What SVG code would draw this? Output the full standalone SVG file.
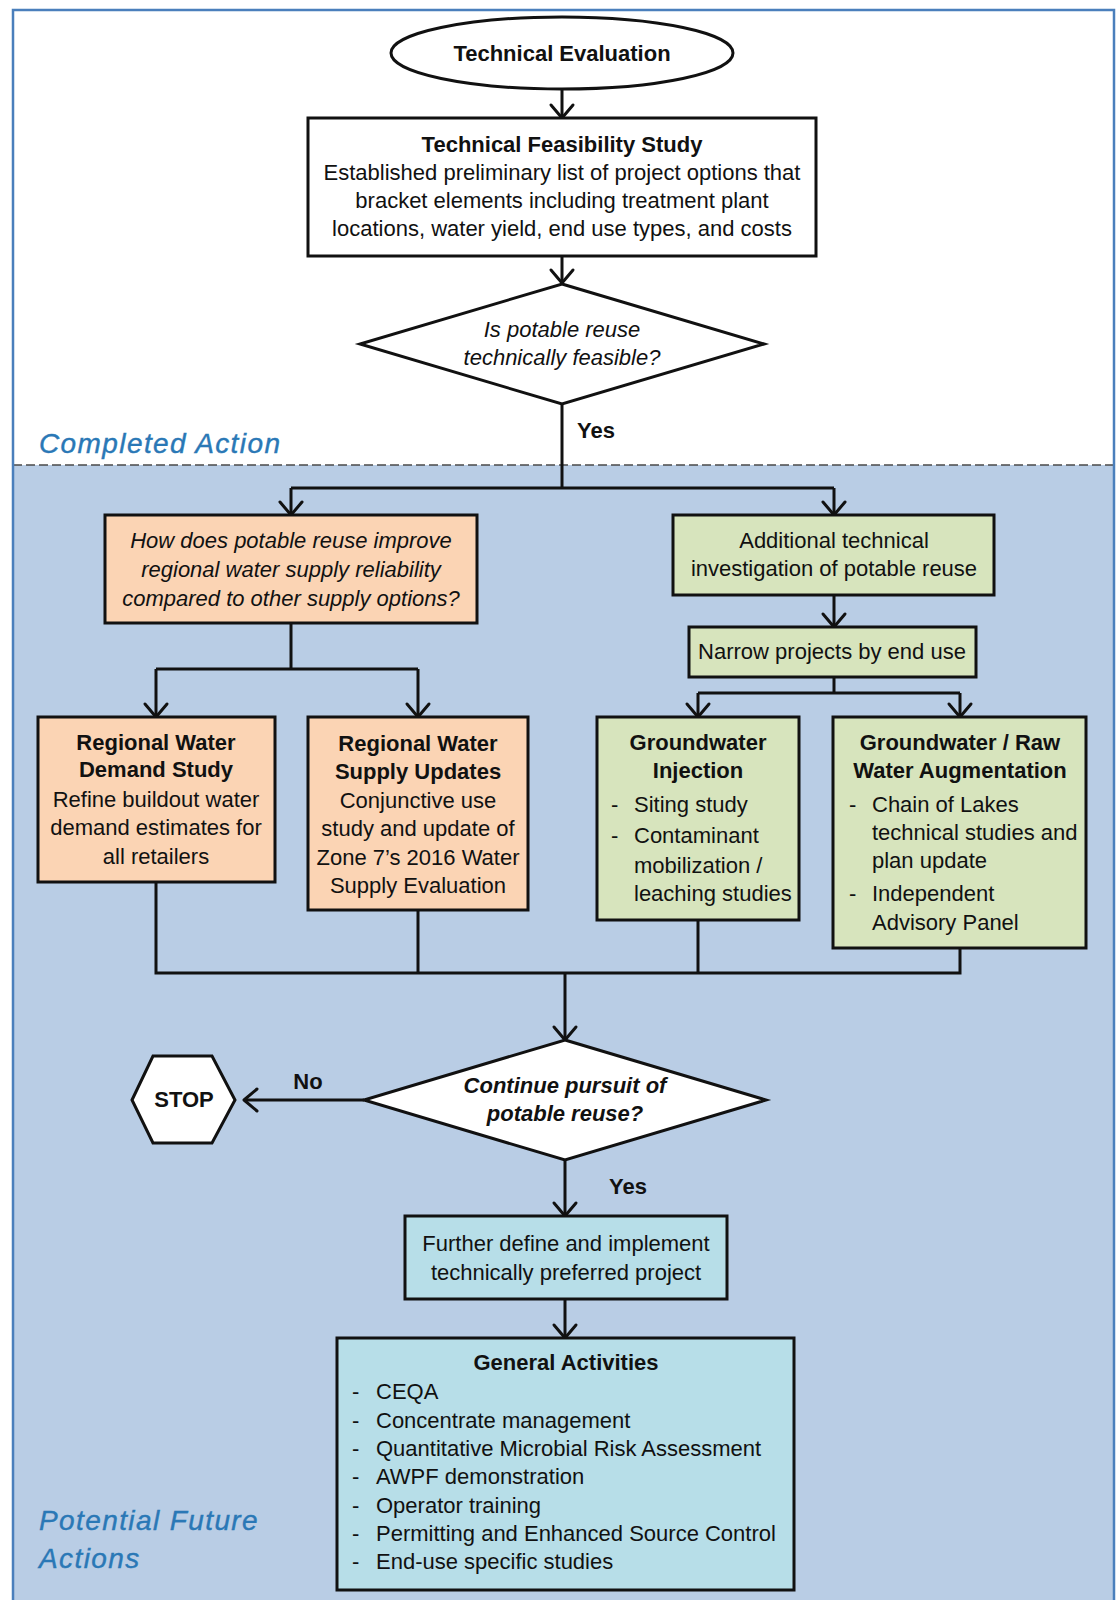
<svg xmlns="http://www.w3.org/2000/svg" width="1119" height="1600" viewBox="0 0 1119 1600">
  <style>
    .t { font-family: "Liberation Sans", Arial, sans-serif; font-size: 22px; fill: #111; }
    .c { text-anchor: middle; }
    .b { font-weight: bold; }
    .i { font-style: italic; }
    .zone { font-family: "Liberation Sans", Arial, sans-serif; font-size: 28px; font-style: italic; fill: #2a78b6; letter-spacing: 1.4px; stroke: #2a78b6; stroke-width: 0.4; }
    .box { stroke: #111; stroke-width: 3; }
    .white { fill: #ffffff; }
    .orange { fill: #fbd4b4; }
    .green { fill: #d7e4bd; }
    .teal { fill: #b7dee8; }
    .wire { fill: none; stroke: #111; stroke-width: 3; }
    .arrow { marker-end: url(#head); }
  </style>
  <defs>
    <marker id="head" markerUnits="userSpaceOnUse" markerWidth="30" markerHeight="30" refX="0" refY="0" orient="auto" overflow="visible">
      <path d="M-13,-11 L0,0 L-13,11" fill="none" stroke="#111" stroke-width="3" stroke-linejoin="round" stroke-linecap="round"/>
    </marker>
  </defs>

  <!-- page and zones -->
  <rect x="0" y="0" width="1119" height="1600" fill="#ffffff"/>
  <rect x="13" y="465" width="1101" height="1135" fill="#b9cde5"/>
  <line x1="13" y1="465" x2="1114" y2="465" stroke="#4a4a4a" stroke-width="1.5" stroke-dasharray="9,4"/>
  <rect x="13" y="10" width="1101" height="1592" fill="none" stroke="#4a7fbc" stroke-width="2.5"/>
  <text class="zone" x="39" y="453">Completed Action</text>
  <text class="zone" x="39" y="1530">Potential Future</text>
  <text class="zone" x="39" y="1568">Actions</text>

  <!-- connectors -->
  <g id="connectors">
    <line class="wire arrow" x1="562" y1="89" x2="562" y2="118"/>
    <line class="wire arrow" x1="562" y1="256" x2="562" y2="283"/>
    <polyline class="wire" points="562,404 562,488"/>
    <polyline class="wire" points="291,488 834,488"/>
    <line class="wire arrow" x1="291" y1="488" x2="291" y2="515"/>
    <line class="wire arrow" x1="834" y1="488" x2="834" y2="515"/>
    <text class="t b" x="577" y="438">Yes</text>

    <polyline class="wire" points="291,623 291,669"/>
    <polyline class="wire" points="156,669 418,669"/>
    <line class="wire arrow" x1="156" y1="669" x2="156" y2="717"/>
    <line class="wire arrow" x1="418" y1="669" x2="418" y2="717"/>

    <line class="wire arrow" x1="834" y1="595" x2="834" y2="627"/>
    <polyline class="wire" points="834,677 834,693"/>
    <polyline class="wire" points="698,693 960,693"/>
    <line class="wire arrow" x1="698" y1="693" x2="698" y2="717"/>
    <line class="wire arrow" x1="960" y1="693" x2="960" y2="717"/>

    <polyline class="wire" points="156,882 156,973 960,973 960,948"/>
    <line class="wire" x1="418" y1="910" x2="418" y2="973"/>
    <line class="wire" x1="698" y1="920" x2="698" y2="973"/>
    <line class="wire arrow" x1="565" y1="973" x2="565" y2="1040"/>

    <line class="wire arrow" x1="364" y1="1100" x2="244" y2="1100"/>
    <text class="t b c" x="308" y="1089">No</text>
    <line class="wire arrow" x1="565" y1="1160" x2="565" y2="1216"/>
    <text class="t b" x="609" y="1194">Yes</text>
    <line class="wire arrow" x1="565" y1="1299" x2="565" y2="1338"/>
  </g>

  <!-- nodes -->
  <g id="technical-evaluation">
    <ellipse class="box white" cx="562" cy="53" rx="171" ry="36"/>
    <text class="t b c" x="562" y="61" font-size="21">Technical Evaluation</text>
  </g>

  <g id="feasibility-study">
    <rect class="box white" x="308" y="118" width="508" height="138"/>
    <text class="t b c" x="562" y="152">Technical Feasibility Study</text>
    <text class="t c" x="562" y="180">Established preliminary list of project options that</text>
    <text class="t c" x="562" y="208">bracket elements including treatment plant</text>
    <text class="t c" x="562" y="236">locations, water yield, end use types, and costs</text>
  </g>

  <g id="feasible-decision">
    <polygon class="box white" points="562,284 764,344 562,404 360,344"/>
    <text class="t i c" x="562" y="337" font-size="21">Is potable reuse</text>
    <text class="t i c" x="562" y="365" font-size="21">technically feasible?</text>
  </g>

  <g id="reliability-question">
    <rect class="box orange" x="105" y="515" width="372" height="108"/>
    <text class="t i c" x="291" y="548">How does potable reuse improve</text>
    <text class="t i c" x="291" y="577">regional water supply reliability</text>
    <text class="t i c" x="291" y="606">compared to other supply options?</text>
  </g>

  <g id="additional-investigation">
    <rect class="box green" x="673" y="515" width="321" height="80"/>
    <text class="t c" x="834" y="548">Additional technical</text>
    <text class="t c" x="834" y="576">investigation of potable reuse</text>
  </g>

  <g id="narrow-projects">
    <rect class="box green" x="689" y="627" width="287" height="50"/>
    <text class="t c" x="832" y="659">Narrow projects by end use</text>
  </g>

  <g id="demand-study">
    <rect class="box orange" x="38" y="717" width="237" height="165"/>
    <text class="t b c" x="156" y="750">Regional Water</text>
    <text class="t b c" x="156" y="777">Demand Study</text>
    <text class="t c" x="156" y="807">Refine buildout water</text>
    <text class="t c" x="156" y="835">demand estimates for</text>
    <text class="t c" x="156" y="864">all retailers</text>
  </g>

  <g id="supply-updates">
    <rect class="box orange" x="308" y="717" width="220" height="193"/>
    <text class="t b c" x="418" y="751">Regional Water</text>
    <text class="t b c" x="418" y="779">Supply Updates</text>
    <text class="t c" x="418" y="808">Conjunctive use</text>
    <text class="t c" x="418" y="836">study and update of</text>
    <text class="t c" x="418" y="865">Zone 7’s 2016 Water</text>
    <text class="t c" x="418" y="893">Supply Evaluation</text>
  </g>

  <g id="groundwater-injection">
    <rect class="box green" x="597" y="717" width="202" height="203"/>
    <text class="t b c" x="698" y="750">Groundwater</text>
    <text class="t b c" x="698" y="778">Injection</text>
    <text class="t" x="611" y="812">-</text>
    <text class="t" x="634" y="812">Siting study</text>
    <text class="t" x="611" y="843">-</text>
    <text class="t" x="634" y="843">Contaminant</text>
    <text class="t" x="634" y="873">mobilization /</text>
    <text class="t" x="634" y="901">leaching studies</text>
  </g>

  <g id="raw-water-augmentation">
    <rect class="box green" x="833" y="717" width="253" height="231"/>
    <text class="t b c" x="960" y="750">Groundwater / Raw</text>
    <text class="t b c" x="960" y="778">Water Augmentation</text>
    <text class="t" x="849" y="812">-</text>
    <text class="t" x="872" y="812">Chain of Lakes</text>
    <text class="t" x="872" y="840">technical studies and</text>
    <text class="t" x="872" y="868">plan update</text>
    <text class="t" x="849" y="901">-</text>
    <text class="t" x="872" y="901">Independent</text>
    <text class="t" x="872" y="930">Advisory Panel</text>
  </g>

  <g id="continue-decision">
    <polygon class="box white" points="565,1040 766,1100 565,1160 364,1100"/>
    <text class="t b i c" x="565" y="1093" font-size="21">Continue pursuit of</text>
    <text class="t b i c" x="565" y="1121" font-size="21">potable reuse?</text>
  </g>

  <g id="stop">
    <polygon class="box white" points="132,1100 153,1056 212,1056 235,1100 212,1143 153,1143"/>
    <text class="t b c" x="184" y="1107">STOP</text>
  </g>

  <g id="preferred-project">
    <rect class="box teal" x="405" y="1216" width="322" height="83"/>
    <text class="t c" x="566" y="1251">Further define and implement</text>
    <text class="t c" x="566" y="1280">technically preferred project</text>
  </g>

  <g id="general-activities">
    <rect class="box teal" x="337" y="1338" width="457" height="252"/>
    <text class="t b c" x="566" y="1370">General Activities</text>
    <text class="t" x="352" y="1399">-</text><text class="t" x="376" y="1399">CEQA</text>
    <text class="t" x="352" y="1428">-</text><text class="t" x="376" y="1428">Concentrate management</text>
    <text class="t" x="352" y="1456">-</text><text class="t" x="376" y="1456">Quantitative Microbial Risk Assessment</text>
    <text class="t" x="352" y="1484">-</text><text class="t" x="376" y="1484">AWPF demonstration</text>
    <text class="t" x="352" y="1513">-</text><text class="t" x="376" y="1513">Operator training</text>
    <text class="t" x="352" y="1541">-</text><text class="t" x="376" y="1541">Permitting and Enhanced Source Control</text>
    <text class="t" x="352" y="1569">-</text><text class="t" x="376" y="1569">End-use specific studies</text>
  </g>
</svg>
